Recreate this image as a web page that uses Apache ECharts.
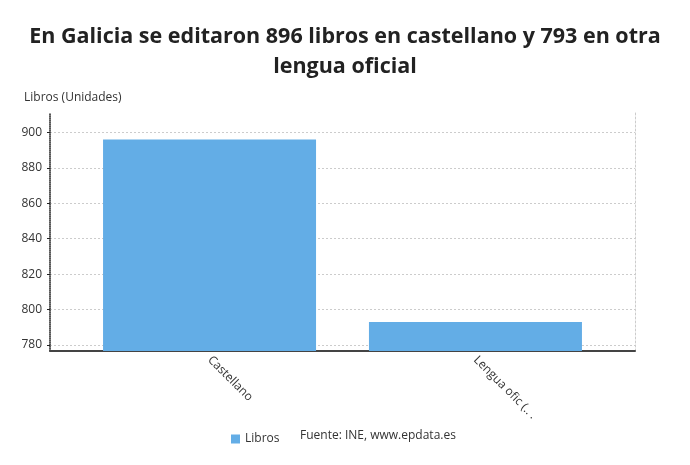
<!DOCTYPE html>
<html><head><meta charset="utf-8">
<script src="https://cdn.jsdelivr.net/npm/echarts@6/dist/echarts.min.js"></script>
<style>html,body{margin:0;padding:0;background:#fff}#c{width:690px;height:465px}</style>
</head><body><div id="c"></div>
<script>
const categories = ['Castellano', 'Lengua ofic (.. .'];
const libros = [896, 793];
const yTicks = [780, 800, 820, 840, 860, 880, 900];
const seriesName = 'Libros';
const titleText = 'En Galicia se editaron 896 libros en castellano y 793 en otra\nlengua oficial';
const yTitle = 'Libros (Unidades)';
const source = 'Fuente: INE, www.epdata.es';

const chart = echarts.init(document.getElementById('c'));
const FONT = '"Open Sans", "Noto Sans", sans-serif';
chart.setOption({
  animation: false,
  textStyle: { fontFamily: FONT },
  title: {
    text: titleText, left: 'center', top: 17,
    textStyle: { fontFamily: FONT, fontSize: 21.5, fontWeight: 'bold', color: '#222', lineHeight: 30 }
  },
  legend: {
    data: [seriesName], left: 226, top: 428, icon: 'rect', itemWidth: 9, itemHeight: 9, itemGap: 5,
    textStyle: { fontFamily: FONT, fontSize: 12, color: '#333' }
  },
  graphic: [
    { type: 'text', left: 300, top: 430, style: { text: source, font: '12px ' + FONT, fill: '#333' } },
    { type: 'text', left: 24, top: 92, style: { text: yTitle, font: '12px ' + FONT, fill: '#333' } }
  ],
  grid: { left: 50, right: 55, top: 113, bottom: 114 },
  xAxis: {
    type: 'value', min: -0.6, max: 1.6,
    splitLine: { show: false },
    axisLine: { show: true, onZero: false, lineStyle: { color: '#444', width: 2 } },
    axisTick: { show: false, customValues: [0, 1] },
    axisLabel: {
      customValues: [0, 1], rotate: -45, margin: 7, fontSize: 12, color: '#333', fontFamily: FONT,
      formatter: v => categories[Math.round(v)] || ''
    }
  },
  yAxis: [{
    type: 'value', min: 776.6, max: 911,
    axisLine: { show: true, onZero: false, lineStyle: { color: '#222', width: 1.5, type: [1, 1] } },
    axisTick: { show: true, length: 3, customValues: yTicks, lineStyle: { color: '#222' } },
    axisLabel: { customValues: yTicks, fontSize: 12, color: '#333', margin: 8, fontFamily: FONT },
    splitLine: { show: true, lineStyle: { color: '#ccc', type: [2, 2], width: 1 } }
  }, {
    type: 'value', min: 776.6, max: 911, position: 'right',
    axisLine: { show: true, onZero: false, lineStyle: { color: '#ccc', type: [2, 2], width: 1 } },
    axisTick: { show: false }, axisLabel: { show: false }, splitLine: { show: false }
  }],
  series: [{
    name: seriesName, type: 'bar', barWidth: 213,
    itemStyle: { color: '#63ade6' },
    data: libros.map((v, i) => [i, v])
  }]
});
</script></body></html>
